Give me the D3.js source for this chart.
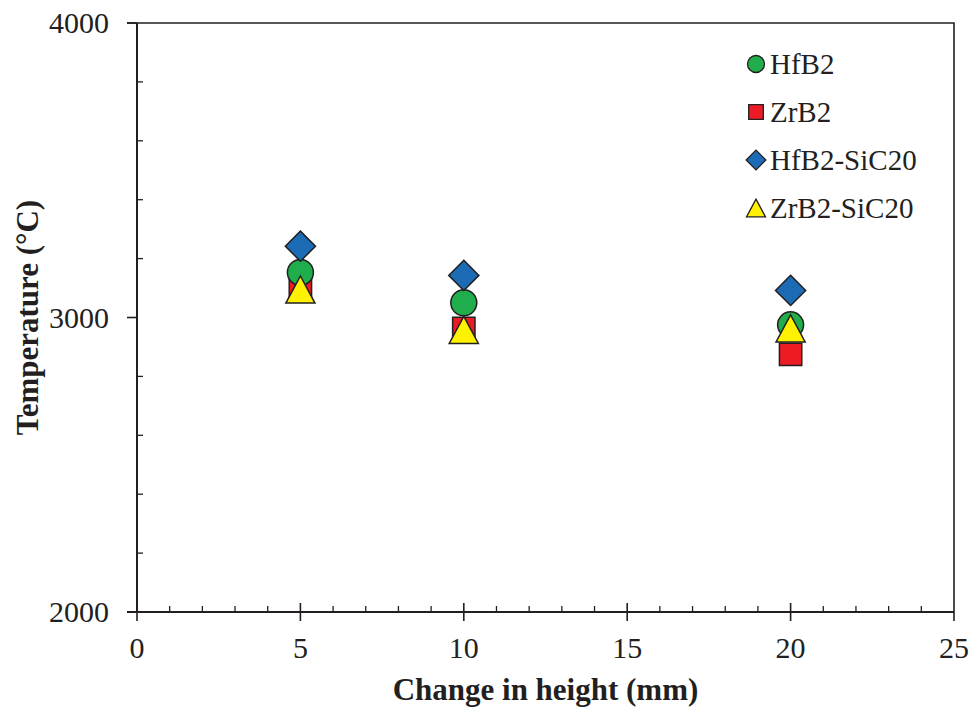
<!DOCTYPE html>
<html>
<head>
<meta charset="utf-8">
<script src="https://cdn.jsdelivr.net/npm/d3@7"></script>
<style>
  body { margin: 0; background: #fff; }
  text { font-family: "Liberation Serif", "Times New Roman", serif; fill: #231f20; }
</style>
</head>
<body>
<div id="chart"></div>
<script>
var svgWidth = 971;
var svgHeight = 708;

// data
var heights = [5, 10, 20];
var seriesNames = ["HfB2", "ZrB2", "HfB2-SiC20", "ZrB2-SiC20"];
var hfb2 = [3153, 3050, 2975];
var zrb2 = [3099, 2963, 2875];
var hfb2Sic = [3242, 3143, 3092];
var zrb2Sic = [3095, 2958, 2963];
var xTicks = [0, 5, 10, 15, 20, 25];
var yTicks = [2000, 3000, 4000];

var colors = {"HfB2": "#1fae4b", "ZrB2": "#ed1c24", "HfB2-SiC20": "#1b6bb5", "ZrB2-SiC20": "#fff200"};
var shapes = {"HfB2": "circle", "ZrB2": "square", "HfB2-SiC20": "diamond", "ZrB2-SiC20": "triangle"};
var values = {"HfB2": hfb2, "ZrB2": zrb2, "HfB2-SiC20": hfb2Sic, "ZrB2-SiC20": zrb2Sic};
// stacking order of the markers
var drawOrder = ["ZrB2", "HfB2", "HfB2-SiC20", "ZrB2-SiC20"];

var plotLeft = 137, plotRight = 954, plotTop = 23, plotBottom = 612;

var svg = d3.select("#chart")
  .append("svg")
  .attr("width", svgWidth)
  .attr("height", svgHeight);

var xScale = d3.scaleLinear().domain([0, 25]).range([plotLeft, plotRight]);
var yScale = d3.scaleLinear().domain([2000, 4000]).range([plotBottom, plotTop]);

// marker path centred on 0,0; s = overall size
function markerPath(shape, s) {
  var h = s / 2;
  if (shape == "circle") {
    return "M" + h + ",0A" + h + "," + h + " 0 1,1 " + (-h) + ",0A" + h + "," + h + " 0 1,1 " + h + ",0Z";
  }
  if (shape == "square") {
    var q = s * 0.43;
    return "M" + (-q) + "," + (-q) + "H" + q + "V" + q + "H" + (-q) + "Z";
  }
  if (shape == "diamond") {
    var d = s * 0.58;
    return "M0," + (-d) + "L" + d + ",0L0," + d + "L" + (-d) + ",0Z";
  }
  var w = s * 0.56, t = s * 0.52;
  return "M0," + (-t) + "L" + w + "," + t + "L" + (-w) + "," + t + "Z";
}

// frame: top and right lines
svg.append("path")
  .attr("d", "M" + (plotLeft - 10) + "," + plotTop + "H" + plotRight + "V" + plotBottom)
  .attr("fill", "none")
  .attr("stroke", "#231f20")
  .attr("stroke-width", 1.6);

// x axis
var xAxis = svg.append("g").attr("transform", "translate(0," + plotBottom + ")");
xAxis.append("line")
  .attr("x1", plotLeft - 10).attr("x2", plotRight)
  .attr("stroke", "#231f20").attr("stroke-width", 2);
xAxis.selectAll(".minor")
  .data(d3.range(1, 25).filter(function(d) { return d % 5 != 0; }))
  .enter().append("line")
  .attr("x1", function(d) { return xScale(d); })
  .attr("x2", function(d) { return xScale(d); })
  .attr("y1", 0).attr("y2", -6)
  .attr("stroke", "#231f20").attr("stroke-width", 1.3);
xAxis.selectAll(".major")
  .data(xTicks)
  .enter().append("line")
  .attr("x1", function(d) { return xScale(d); })
  .attr("x2", function(d) { return xScale(d); })
  .attr("y1", function(d) { return d == 0 || d == 25 ? 0 : -9; })
  .attr("y2", 9)
  .attr("stroke", "#231f20").attr("stroke-width", 1.6);
xAxis.selectAll(".xlab")
  .data(xTicks)
  .enter().append("text")
  .attr("x", function(d) { return xScale(d); })
  .attr("y", 46)
  .attr("text-anchor", "middle")
  .attr("font-size", 30)
  .text(function(d) { return d; });

// y axis
var yAxis = svg.append("g").attr("transform", "translate(" + plotLeft + ",0)");
yAxis.append("line")
  .attr("y1", plotTop).attr("y2", plotBottom)
  .attr("stroke", "#231f20").attr("stroke-width", 2);
yAxis.selectAll(".minor")
  .data(d3.range(2200, 4000, 200).filter(function(d) { return d % 1000 != 0; }))
  .enter().append("line")
  .attr("y1", function(d) { return yScale(d); })
  .attr("y2", function(d) { return yScale(d); })
  .attr("x1", 0).attr("x2", 6)
  .attr("stroke", "#231f20").attr("stroke-width", 1.3);
yAxis.selectAll(".major")
  .data(yTicks)
  .enter().append("line")
  .attr("y1", function(d) { return yScale(d); })
  .attr("y2", function(d) { return yScale(d); })
  .attr("x1", -10).attr("x2", 0)
  .attr("stroke", "#231f20").attr("stroke-width", 1.6);
yAxis.selectAll(".ylab")
  .data(yTicks)
  .enter().append("text")
  .attr("x", -28)
  .attr("y", function(d) { return yScale(d) + 10; })
  .attr("text-anchor", "end")
  .attr("font-size", 30)
  .text(function(d) { return d; });

// axis titles
svg.append("text")
  .attr("x", (plotLeft + plotRight) / 2)
  .attr("y", 700)
  .attr("text-anchor", "middle")
  .attr("font-size", 31)
  .attr("font-weight", "bold")
  .text("Change in height (mm)");

svg.append("text")
  .attr("transform", "translate(38," + ((plotTop + plotBottom) / 2) + ") rotate(-90)")
  .attr("text-anchor", "middle")
  .attr("font-size", 31)
  .attr("font-weight", "bold")
  .text("Temperature (°C)");

// markers
drawOrder.forEach(function(name) {
  svg.append("g")
    .selectAll("path")
    .data(heights.map(function(h, i) { return {x: h, y: values[name][i]}; }))
    .enter().append("path")
    .attr("d", markerPath(shapes[name], 26))
    .attr("transform", function(d) { return "translate(" + xScale(d.x) + "," + yScale(d.y) + ")"; })
    .attr("fill", colors[name])
    .attr("stroke", "#231f20")
    .attr("stroke-width", 1.5);
});

// legend
var legend = svg.append("g").attr("transform", "translate(756,64)");
seriesNames.forEach(function(name, i) {
  var row = legend.append("g").attr("transform", "translate(0," + (i * 48) + ")");
  row.append("path")
    .attr("d", markerPath(shapes[name], 17))
    .attr("fill", colors[name])
    .attr("stroke", "#231f20")
    .attr("stroke-width", 1.3);
  row.append("text")
    .attr("x", 14)
    .attr("y", 10)
    .attr("font-size", 29)
    .text(name);
});
</script>
</body>
</html>
